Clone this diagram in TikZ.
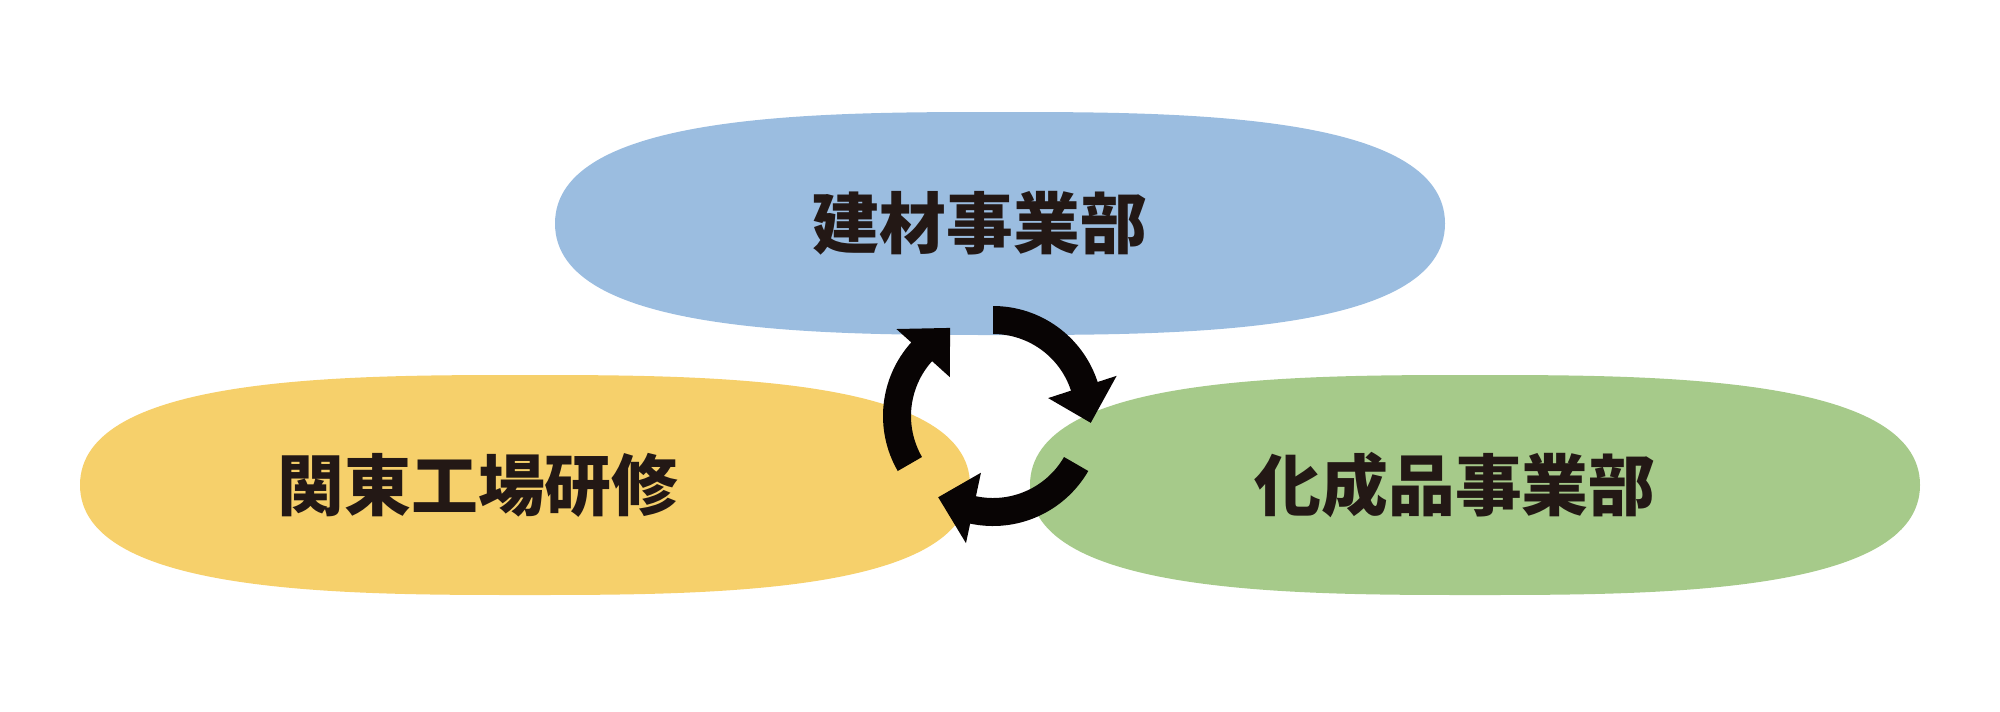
\documentclass[tikz,border=0pt]{standalone}
\usepackage{fontspec}
\newfontfamily\cjk{Noto Sans CJK JP}
\usetikzlibrary{positioning}
\definecolor{kenzai}{HTML}{9BBDE0}
\definecolor{kanto}{HTML}{F6D06B}
\definecolor{kasei}{HTML}{A6CA8A}
\definecolor{ink}{HTML}{231815}
\definecolor{arrowink}{HTML}{080404}

% blob: left x, right x, top y, bottom y
\newcommand{\blob}[5]{%
  \fill[#5] (#1,{(#3+#4)/2}) .. controls (#1,#3) and ({#1+0.3*(#2-#1)},#3) .. ({(#1+#2)/2},#3)
    .. controls ({#2-0.3*(#2-#1)},#3) and (#2,#3) .. (#2,{(#3+#4)/2})
    .. controls (#2,#4) and ({#2-0.3*(#2-#1)},#4) .. ({(#1+#2)/2},#4)
    .. controls ({#1+0.3*(#2-#1)},#4) and (#1,#4) .. cycle;}
% cycle arrow: start angle, end angle, tip angle
\newcommand{\cycarrow}[3]{%
  \fill[arrowink] ([shift={(cyc)}]#1:110) arc[start angle=#1,end angle=#2,radius=110]
    -- ([shift={(cyc)}]#2:130) -- ([shift={(cyc)}]#3:98) -- ([shift={(cyc)}]#2:58)
    -- ([shift={(cyc)}]#2:82) arc[start angle=#2,end angle=#1,radius=82] -- cycle;}

\tikzset{
  label/.style={text=ink, font=\cjk\bfseries\fontsize{19}{19}\selectfont, inner sep=0pt}
}

\begin{document}
\begin{tikzpicture}[x=0.01cm,y=0.01cm]
  \useasboundingbox (0,0) rectangle (2000,711);
  \blob{555}{1445}{599}{376}{kenzai}
  \blob{80}{970}{336}{116}{kanto}
  \blob{1030}{1920}{336}{116}{kasei}

  \node[label] (kenzaitext) at (980,488) {建材事業部};
  \node[label] (kantotext) at (478,226) {関東工場研修};
  \node[label] (kaseitext) at (1455,226) {化成品事業部};

  \coordinate (cyc) at (993,295);
  \cycarrow{90}{18}{-4}
  \cycarrow{-30}{-102}{-124}
  \cycarrow{210}{138}{116}
\end{tikzpicture}
\end{document}
